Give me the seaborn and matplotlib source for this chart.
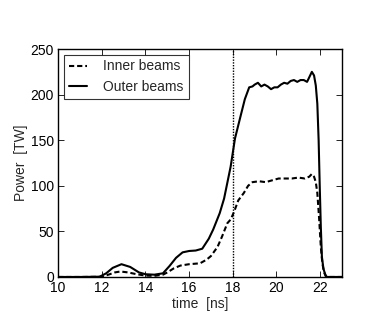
import matplotlib
matplotlib.use("Agg")
import matplotlib.pyplot as plt
import seaborn as sns

# outer beams
t_outer = [10.0, 11.0, 11.9, 12.2, 12.5, 12.9, 13.3, 13.7, 14.0, 14.4, 14.8, 15.1, 15.4,
           15.7, 16.0, 16.3, 16.6, 16.9, 17.1, 17.4, 17.6, 17.9, 18.1, 18.35, 18.55, 18.75,
           18.9, 19.0, 19.15, 19.3, 19.45, 19.6, 19.75, 19.9, 20.05, 20.2, 20.35, 20.5,
           20.65, 20.8, 20.95, 21.1, 21.25, 21.4, 21.5, 21.62, 21.72, 21.8, 21.87, 21.93,
           21.98, 22.03, 22.08, 22.15, 22.23, 22.3, 23.0]
p_outer = [0, 0, 0.3, 4, 10, 14, 11, 5, 3, 2.5, 4, 12, 21,
           27, 28.5, 29, 31, 42, 52, 70, 86, 121, 152, 176, 195, 208,
           209, 211, 213, 209, 211, 209, 206, 208, 208, 211, 213, 212,
           215, 216, 214, 216, 216, 214, 219, 225, 221, 210, 190, 150,
           100, 55, 22, 9, 3, 0, 0]

# inner beams
t_inner = [10.0, 11.0, 12.0, 12.3, 12.6, 12.85, 13.2, 13.6, 14.0, 14.4, 14.8, 15.0, 15.3,
           15.6, 16.0, 16.5, 16.8, 17.0, 17.3, 17.5, 17.75, 17.9, 18.05, 18.25, 18.5, 18.7,
           18.9, 19.2, 19.5, 19.8, 20.1, 20.4, 20.7, 21.0, 21.3, 21.5, 21.62, 21.72, 21.8,
           21.87, 21.95, 22.03, 22.1, 22.18, 22.25, 22.3, 23.0]
p_inner = [0, 0, 0.2, 2.5, 5, 6, 5, 3, 1.5, 1.2, 2.5, 5, 9.5,
           12.5, 14, 15, 19, 23, 33, 44, 59, 63, 71, 84, 92, 100,
           104, 105, 104, 106, 108, 108, 108, 109, 108, 110, 113, 110, 104,
           92, 65, 33, 15, 5, 1, 0, 0]

x_ticks = [10, 12, 14, 16, 18, 20, 22]
y_ticks = [0, 50, 100, 150, 200, 250]

sns.set_theme(style="white", rc={
    "xtick.direction": "in", "ytick.direction": "in",
    "xtick.top": True, "ytick.right": True,
    "xtick.bottom": True, "ytick.left": True,
    "xtick.major.size": 4, "ytick.major.size": 4,
    "xtick.major.width": 0.6, "ytick.major.width": 0.6,
    "axes.edgecolor": "black", "axes.linewidth": 1.0,
})
plt.rcParams["font.family"] = ["Liberation Sans", "DejaVu Sans"]

fig = plt.figure(figsize=(3.8, 3.27), dpi=100)
ax = fig.add_axes([0.153, 0.153, 0.747, 0.697])

sns.lineplot(x=t_inner, y=p_inner, ax=ax, color="black", lw=1.5,
             linestyle=(0, (2.5, 1.4)), label="Inner beams")
sns.lineplot(x=t_outer, y=p_outer, ax=ax, color="black", lw=1.5,
             label="Outer beams")
ax.axvline(18, color="black", lw=1.0, linestyle=(0, (1, 1)))

ax.set_xlim(10, 23)
ax.set_ylim(0, 250)
ax.set_xticks(x_ticks)
ax.set_yticks(y_ticks)
ax.tick_params(labelsize=10, colors="black", pad=3)
ax.set_xlabel("time  [ns]", fontsize=10, labelpad=1)
ax.set_ylabel("Power  [TW]", fontsize=10, labelpad=2)

leg = ax.legend(loc="upper left", fontsize=10, frameon=True, fancybox=False,
                handlelength=1.3, handletextpad=1.2, borderpad=0.35,
                labelspacing=0.45, borderaxespad=0.4)
leg.get_frame().set_edgecolor("black")
leg.get_frame().set_linewidth(0.8)

fig.savefig("out.png", dpi=100)
